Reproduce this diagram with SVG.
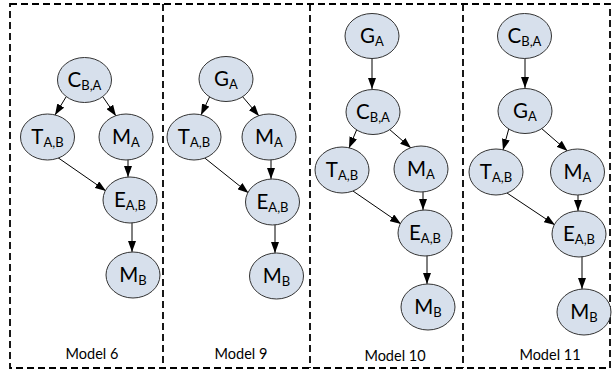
<svg xmlns="http://www.w3.org/2000/svg" width="614" height="374" viewBox="0 0 614 374">
<style>
.frame{fill:none;stroke:#000;stroke-width:1.8;stroke-dasharray:7 4}
.node ellipse{fill:#d7e0ec;stroke:#333;stroke-width:1}
.lbl{font-family:Lato,"Open Sans","Liberation Sans",sans-serif;font-size:20.5px;fill:#000;text-anchor:middle}
.sub{font-size:13px}
.cap{font-family:Lato,"Open Sans","Liberation Sans",sans-serif;font-size:14.5px;fill:#000;text-anchor:middle}
.edge{stroke:#000;stroke-width:1;fill:none;marker-end:url(#ah)}
</style>
<defs>
<marker id="ah" markerUnits="userSpaceOnUse" markerWidth="11" markerHeight="8" refX="11" refY="4" orient="auto">
<path d="M0,0 L11,4 L0,8 z" fill="#000"/>
</marker>
</defs>
<rect width="614" height="374" fill="#fff"/>
<g id="frames">
<rect class="frame" x="10" y="4" width="600" height="364"/>
<line class="frame" x1="163" y1="4" x2="163" y2="368"/>
<line class="frame" x1="310" y1="4" x2="310" y2="368"/>
<line class="frame" x1="463" y1="4" x2="463" y2="368"/>
<text class="cap" x="92" y="359">Model 6</text>
<text class="cap" x="241" y="359">Model 9</text>
<text class="cap" x="395" y="361">Model 10</text>
<text class="cap" x="550" y="360">Model 11</text>
</g>
<g id="connectors">
<line class="edge" x1="66" y1="97" x2="55" y2="115"/>
<line class="edge" x1="103" y1="97" x2="116" y2="116"/>
<line class="edge" x1="57" y1="157" x2="106" y2="191"/>
<line class="edge" x1="128" y1="159" x2="128" y2="177"/>
<line class="edge" x1="132" y1="222" x2="132" y2="252"/>
<line class="edge" x1="210" y1="96" x2="201" y2="115"/>
<line class="edge" x1="242" y1="96" x2="259" y2="116"/>
<line class="edge" x1="203.5" y1="157" x2="248.5" y2="193"/>
<line class="edge" x1="271" y1="159" x2="271" y2="179"/>
<line class="edge" x1="275" y1="224" x2="275" y2="253"/>
<line class="edge" x1="372" y1="58" x2="372" y2="89"/>
<line class="edge" x1="357" y1="129" x2="349" y2="148"/>
<line class="edge" x1="389" y1="129" x2="411" y2="148"/>
<line class="edge" x1="351.5" y1="190" x2="401" y2="224"/>
<line class="edge" x1="423" y1="191" x2="423" y2="210"/>
<line class="edge" x1="427" y1="255" x2="427" y2="284"/>
<line class="edge" x1="525" y1="58" x2="525" y2="88"/>
<line class="edge" x1="509" y1="128" x2="503" y2="150"/>
<line class="edge" x1="541" y1="128" x2="567.5" y2="151"/>
<line class="edge" x1="505.5" y1="192" x2="555" y2="225"/>
<line class="edge" x1="578" y1="194" x2="578" y2="211"/>
<line class="edge" x1="582" y1="256" x2="582" y2="289"/>
</g>
<g id="m6-C" class="node"><ellipse cx="84.5" cy="80" rx="27" ry="22.5"/><text class="lbl" x="84.5" y="87">C<tspan class="sub" dy="3">B,A</tspan></text></g>
<g id="m6-T" class="node"><ellipse cx="47.5" cy="137" rx="27" ry="23"/><text class="lbl" x="47.5" y="144">T<tspan class="sub" dy="3">A,B</tspan></text></g>
<g id="m6-MA" class="node"><ellipse cx="126" cy="137" rx="27" ry="23"/><text class="lbl" x="126" y="144">M<tspan class="sub" dy="3">A</tspan></text></g>
<g id="m6-E" class="node"><ellipse cx="130" cy="200" rx="27" ry="23"/><text class="lbl" x="130" y="207">E<tspan class="sub" dy="3">A,B</tspan></text></g>
<g id="m6-MB" class="node"><ellipse cx="133" cy="275" rx="27" ry="23"/><text class="lbl" x="133" y="282">M<tspan class="sub" dy="3">B</tspan></text></g>
<g id="m9-G" class="node"><ellipse cx="226" cy="79" rx="27" ry="22.5"/><text class="lbl" x="226" y="86">G<tspan class="sub" dy="3">A</tspan></text></g>
<g id="m9-T" class="node"><ellipse cx="194" cy="137" rx="27" ry="23"/><text class="lbl" x="194" y="144">T<tspan class="sub" dy="3">A,B</tspan></text></g>
<g id="m9-MA" class="node"><ellipse cx="269" cy="137" rx="27" ry="23"/><text class="lbl" x="269" y="144">M<tspan class="sub" dy="3">A</tspan></text></g>
<g id="m9-E" class="node"><ellipse cx="272.5" cy="202" rx="27" ry="23"/><text class="lbl" x="272.5" y="209">E<tspan class="sub" dy="3">A,B</tspan></text></g>
<g id="m9-MB" class="node"><ellipse cx="276.5" cy="276" rx="27" ry="23"/><text class="lbl" x="276.5" y="283">M<tspan class="sub" dy="3">B</tspan></text></g>
<g id="m10-G" class="node"><ellipse cx="372" cy="36" rx="27" ry="22.5"/><text class="lbl" x="372" y="43">G<tspan class="sub" dy="3">A</tspan></text></g>
<g id="m10-C" class="node"><ellipse cx="373" cy="112" rx="27" ry="22.5"/><text class="lbl" x="373" y="119">C<tspan class="sub" dy="3">B,A</tspan></text></g>
<g id="m10-T" class="node"><ellipse cx="342" cy="170" rx="27" ry="23"/><text class="lbl" x="342" y="177">T<tspan class="sub" dy="3">A,B</tspan></text></g>
<g id="m10-MA" class="node"><ellipse cx="421" cy="169" rx="27" ry="23"/><text class="lbl" x="421" y="176">M<tspan class="sub" dy="3">A</tspan></text></g>
<g id="m10-E" class="node"><ellipse cx="425" cy="233" rx="27" ry="23"/><text class="lbl" x="425" y="240">E<tspan class="sub" dy="3">A,B</tspan></text></g>
<g id="m10-MB" class="node"><ellipse cx="428" cy="307" rx="27" ry="23"/><text class="lbl" x="428" y="314">M<tspan class="sub" dy="3">B</tspan></text></g>
<g id="m11-C" class="node"><ellipse cx="524.5" cy="36" rx="27" ry="22.5"/><text class="lbl" x="524.5" y="43">C<tspan class="sub" dy="3">B,A</tspan></text></g>
<g id="m11-G" class="node"><ellipse cx="525" cy="111" rx="27" ry="22.5"/><text class="lbl" x="525" y="118">G<tspan class="sub" dy="3">A</tspan></text></g>
<g id="m11-T" class="node"><ellipse cx="496" cy="172" rx="27" ry="23"/><text class="lbl" x="496" y="179">T<tspan class="sub" dy="3">A,B</tspan></text></g>
<g id="m11-MA" class="node"><ellipse cx="577.5" cy="172" rx="27" ry="23"/><text class="lbl" x="577.5" y="179">M<tspan class="sub" dy="3">A</tspan></text></g>
<g id="m11-E" class="node"><ellipse cx="579" cy="234" rx="27" ry="23"/><text class="lbl" x="579" y="241">E<tspan class="sub" dy="3">A,B</tspan></text></g>
<g id="m11-MB" class="node"><ellipse cx="584" cy="312" rx="27" ry="23"/><text class="lbl" x="584" y="319">M<tspan class="sub" dy="3">B</tspan></text></g>
</svg>
